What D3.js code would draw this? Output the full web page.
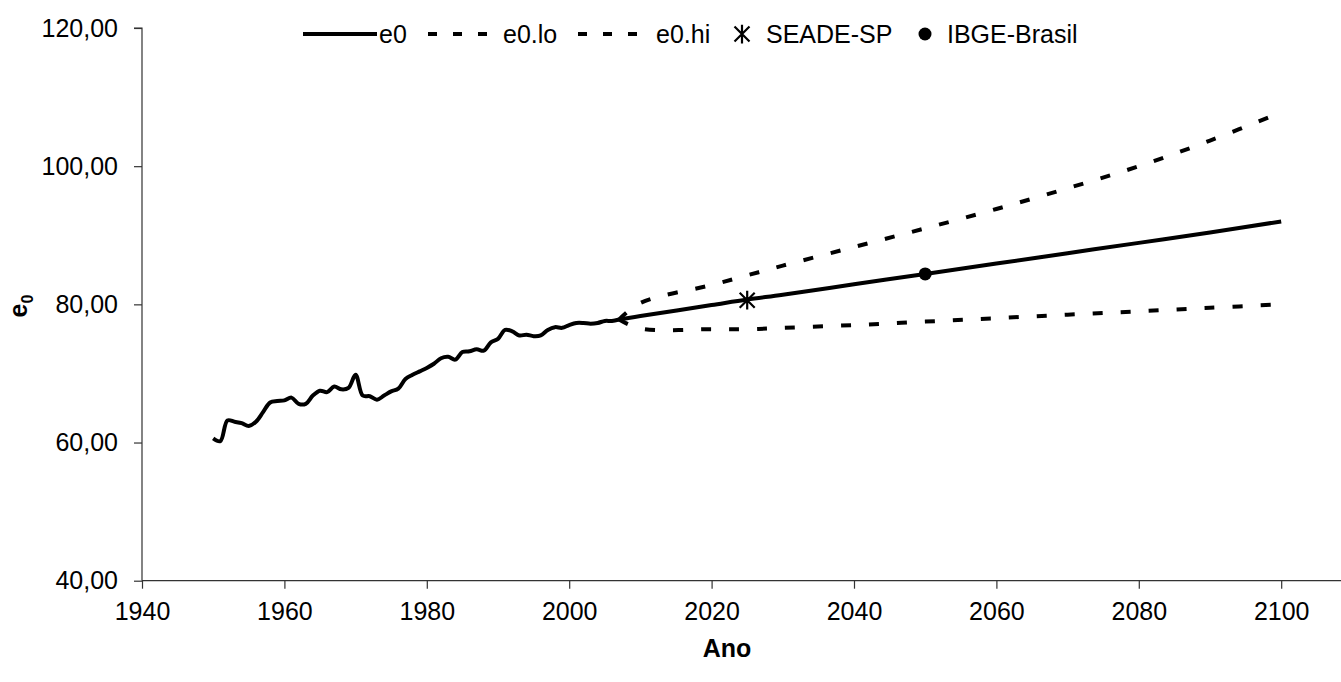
<!DOCTYPE html>
<html><head><meta charset="utf-8">
<script src="https://cdn.jsdelivr.net/npm/d3@7"></script>
<style>body{margin:0;background:#fff}svg{display:block}text{font-family:"Liberation Sans",Arial,sans-serif}</style>
</head><body>
<svg id="c" width="1341" height="682"></svg>
<script>
const histYears = [1950,1951,1952,1953,1954,1955,1956,1957,1958,1959,1960,1961,1962,1963,1964,1965,1966,1967,1968,1969,1970,1971,1972,1973,1974,1975,1976,1977,1978,1979,1980,1981,1982,1983,1984,1985,1986,1987,1988,1989,1990,1991,1992,1993,1994,1995,1996,1997,1998,1999,2000,2001,2002,2003,2004,2005,2006,2007];
const histE0 = [60.6,60.2,63.2,63.0,62.8,62.4,63.0,64.4,65.8,66.0,66.1,66.5,65.6,65.6,66.8,67.5,67.3,68.1,67.7,67.9,69.8,66.8,66.7,66.2,66.8,67.4,67.8,69.2,69.8,70.3,70.8,71.4,72.2,72.4,72.0,73.1,73.2,73.5,73.3,74.5,75.0,76.3,76.1,75.5,75.6,75.4,75.5,76.3,76.7,76.6,77.0,77.3,77.3,77.2,77.3,77.6,77.6,77.8];
const projYears = [2007,2010,2020,2025,2030,2040,2050,2060,2070,2080,2090,2100];
const projE0 = [77.8,78.3,79.9,80.7,81.4,82.9,84.4,85.9,87.4,88.9,90.4,92.0];
const projLo = [77.8,76.5,76.4,76.4,76.6,77.0,77.5,78.0,78.5,79.0,79.5,80.0];
const projHi = [77.8,80.2,82.8,84.2,85.6,88.3,91.0,93.8,96.8,100.0,103.7,107.8];
const seadeYear = [2025], seadeVal = [80.6];
const ibgeYear = [2050], ibgeVal = [84.4];
const xTicks = [1940,1960,1980,2000,2020,2040,2060,2080,2100];
const yTicks = [40,60,80,100,120];
const legendLabels = ["e0","e0.lo","e0.hi","SEADE-SP","IBGE-Brasil"];

const svg = d3.select("#c");
const x = d3.scaleLinear().domain([1940, 2108.4]).range([142, 1341]);
const y = d3.scaleLinear().domain([40, 120]).range([580.7, 28]);
const fmt = v => d3.format(".2f")(v).replace(".", ",");

// axes
const gx = svg.append("g").attr("transform","translate(0,580.7)")
  .call(d3.axisBottom(x).tickValues(xTicks).tickSize(8).tickPadding(14).tickFormat(d3.format("d")));
const gy = svg.append("g").attr("transform","translate(142,0)")
  .call(d3.axisLeft(y).tickValues(yTicks).tickSize(8).tickPadding(16).tickFormat(fmt));
[gx,gy].forEach(g=>{
  g.select(".domain").attr("stroke","#333").attr("stroke-width",1.2);
  g.selectAll(".tick line").attr("stroke","#333").attr("stroke-width",1.2);
  g.selectAll("text").attr("font-size",25).attr("fill","#000").attr("font-family","Liberation Sans, Arial, sans-serif");
});
gy.select(".domain").attr("d","M0,580.7V28H-8");
gx.select(".domain").attr("d","M142,0H1341");

const line = d3.line().x(d=>x(d[0])).y(d=>y(d[1])).curve(d3.curveCatmullRom.alpha(0.5));
const hist = histYears.map((v,i)=>[v,histE0[i]]);
const pE = projYears.map((v,i)=>[v,projE0[i]]);
const pL = projYears.map((v,i)=>[v,projLo[i]]);
const pH = projYears.map((v,i)=>[v,projHi[i]]);

svg.append("path").attr("d",line(pL)).attr("fill","none").attr("stroke","#000").attr("stroke-width",4).attr("stroke-dasharray","10,18");
svg.append("path").attr("d",line(pH)).attr("fill","none").attr("stroke","#000").attr("stroke-width",4).attr("stroke-dasharray","10,18");
svg.append("path").attr("d",line(hist)).attr("fill","none").attr("stroke","#000").attr("stroke-width",4).attr("stroke-linejoin","round");
svg.append("path").attr("d",line(pE)).attr("fill","none").attr("stroke","#000").attr("stroke-width",4).attr("stroke-linejoin","round");

function star(g, cx, cy, r){
  g.append("path").attr("d",`M${cx-r},${cy-r}L${cx+r},${cy+r}M${cx-r},${cy+r}L${cx+r},${cy-r}M${cx},${cy-r*1.25}V${cy+r*1.25}`)
   .attr("stroke","#000").attr("stroke-width",2.2).attr("fill","none");
}
seadeYear.forEach((v,i)=>star(svg, x(v), y(seadeVal[i]), 7.5));
svg.selectAll("circle.ibge").data(ibgeYear).enter().append("circle").attr("class","ibge")
  .attr("cx",d=>x(d)).attr("cy",(d,i)=>y(ibgeVal[i])).attr("r",6.5).attr("fill","#000");

// legend
const lg = svg.append("g");
const ly = 34;
lg.append("line").attr("x1",303).attr("x2",377).attr("y1",ly).attr("y2",ly).attr("stroke","#000").attr("stroke-width",4);
lg.append("text").attr("x",379).attr("y",ly+9).attr("font-size",25).text(legendLabels[0]);
lg.append("line").attr("x1",428).attr("x2",490).attr("y1",ly).attr("y2",ly).attr("stroke","#000").attr("stroke-width",4).attr("stroke-dasharray","9,16");
lg.append("text").attr("x",503).attr("y",ly+9).attr("font-size",25).text(legendLabels[1]);
lg.append("line").attr("x1",578).attr("x2",640).attr("y1",ly).attr("y2",ly).attr("stroke","#000").attr("stroke-width",4).attr("stroke-dasharray","9,16");
lg.append("text").attr("x",656).attr("y",ly+9).attr("font-size",25).text(legendLabels[2]);
star(lg, 742, ly, 7.5);
lg.append("text").attr("x",766).attr("y",ly+9).attr("font-size",25).text(legendLabels[3]);
lg.append("circle").attr("cx",925).attr("cy",ly).attr("r",6.5).attr("fill","#000");
lg.append("text").attr("x",947).attr("y",ly+9).attr("font-size",25).text(legendLabels[4]);

// axis titles
svg.append("text").attr("x",727).attr("y",657).attr("text-anchor","middle").attr("font-size",25).attr("font-weight","bold").text("Ano");
const yl = svg.append("text").attr("transform","translate(27,306) rotate(-90)").attr("text-anchor","middle").attr("font-size",25).attr("font-weight","bold");
yl.append("tspan").text("e");
yl.append("tspan").attr("font-size",16).attr("dy",6).text("0");
</script>
</body></html>
